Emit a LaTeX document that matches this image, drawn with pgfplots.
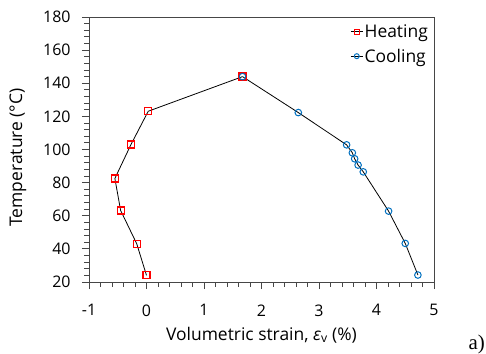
\documentclass[border=0pt]{standalone}
\usepackage{fontspec}
\setmainfont{Open Sans}
\newfontfamily\timesfont{Liberation Serif}
\usepackage{pgfplots}
\pgfplotsset{compat=1.18}
\definecolor{hred}{RGB}{255,0,0}
\definecolor{cblue}{RGB}{0,112,192}
\definecolor{axgray}{RGB}{70,70,70}
\pgfplotstableread{
x y
0.00 24.0
-0.17 43.1
-0.45 63.2
-0.55 82.5
-0.27 103.0
0.03 123.1
1.67 144.0
}\heating
\pgfplotstableread{
x y
1.67 144.0
2.64 122.3
3.48 102.8
3.58 98.0
3.62 94.4
3.68 90.6
3.77 86.5
4.21 62.8
4.50 43.3
4.72 24.2
}\cooling
\begin{document}
\begin{tikzpicture}
\useasboundingbox (0,0) rectangle (486bp,354bp);
\begin{axis}[
  at={(89bp,72bp)}, anchor=south west,
  scale only axis, width=345bp, height=265bp,
  xmin=-1, xmax=5, ymin=20, ymax=180,
  xtick={-1,0,1,2,3,4,5}, xticklabels={-1,0,1,2,3,4,5},
  ytick={20,40,60,80,100,120,140,160,180},
  yticklabels={20,40,60,80,100,120,140,160,180},
  minor x tick num=4, minor y tick num=4,
  tick align=outside, xtick pos=lower, ytick pos=left,
  major tick length=7bp, minor tick length=4.5bp,
  axis line style={axgray, line width=0.9pt},
  every tick/.style={axgray, line width=0.9pt},
  tick label style={font=\fontsize{16}{19}\selectfont},
  xticklabel style={yshift=-12bp},
  yticklabel style={xshift=-8bp},
  label style={font=\fontsize{17.5}{21}\selectfont},
  xlabel={Volumetric strain, \textit{ε}\textsubscript{v} (\%)},
  ylabel={Temperature (°C)},
  xlabel style={at={(axis description cs:0.5,0)}, anchor=base, yshift=-58bp},
  ylabel style={at={(axis description cs:-0.206,0.47)}, anchor=center},
  legend style={draw=none, fill=none, at={(axis description cs:0.987,0.978)}, anchor=north east,
    font=\fontsize{17.5}{21}\selectfont, row sep=7bp, inner sep=0pt,
    nodes={inner sep=1.5bp}},
  legend cell align=left,
  legend image code/.code={
    \draw[black, line width=0.8pt] (0bp,0bp) -- (12bp,0bp);
    \draw[#1, mark size=2.5bp] plot coordinates {(6bp,0bp)};
  },
]
\addplot[black, line width=0.8pt, mark=none, forget plot] table[x=x,y=y] {\heating};
\addplot[black, line width=0.8pt, mark=none, forget plot] table[x=x,y=y] {\cooling};
\addplot[draw=hred, only marks, mark=square, mark size=3.5bp, line width=1.25pt]
  table[x=x,y=y] {\heating};
\addlegendentry{Heating}
\addplot[draw=cblue, only marks, mark=o, mark size=3.3bp, line width=1pt]
  table[x=x,y=y] {\cooling};
\addlegendentry{Cooling}
\end{axis}
\node[anchor=base east, font=\timesfont\fontsize{21}{24}\selectfont, inner sep=0pt] at (485bp,5bp) {a)};
\end{tikzpicture}
\end{document}
